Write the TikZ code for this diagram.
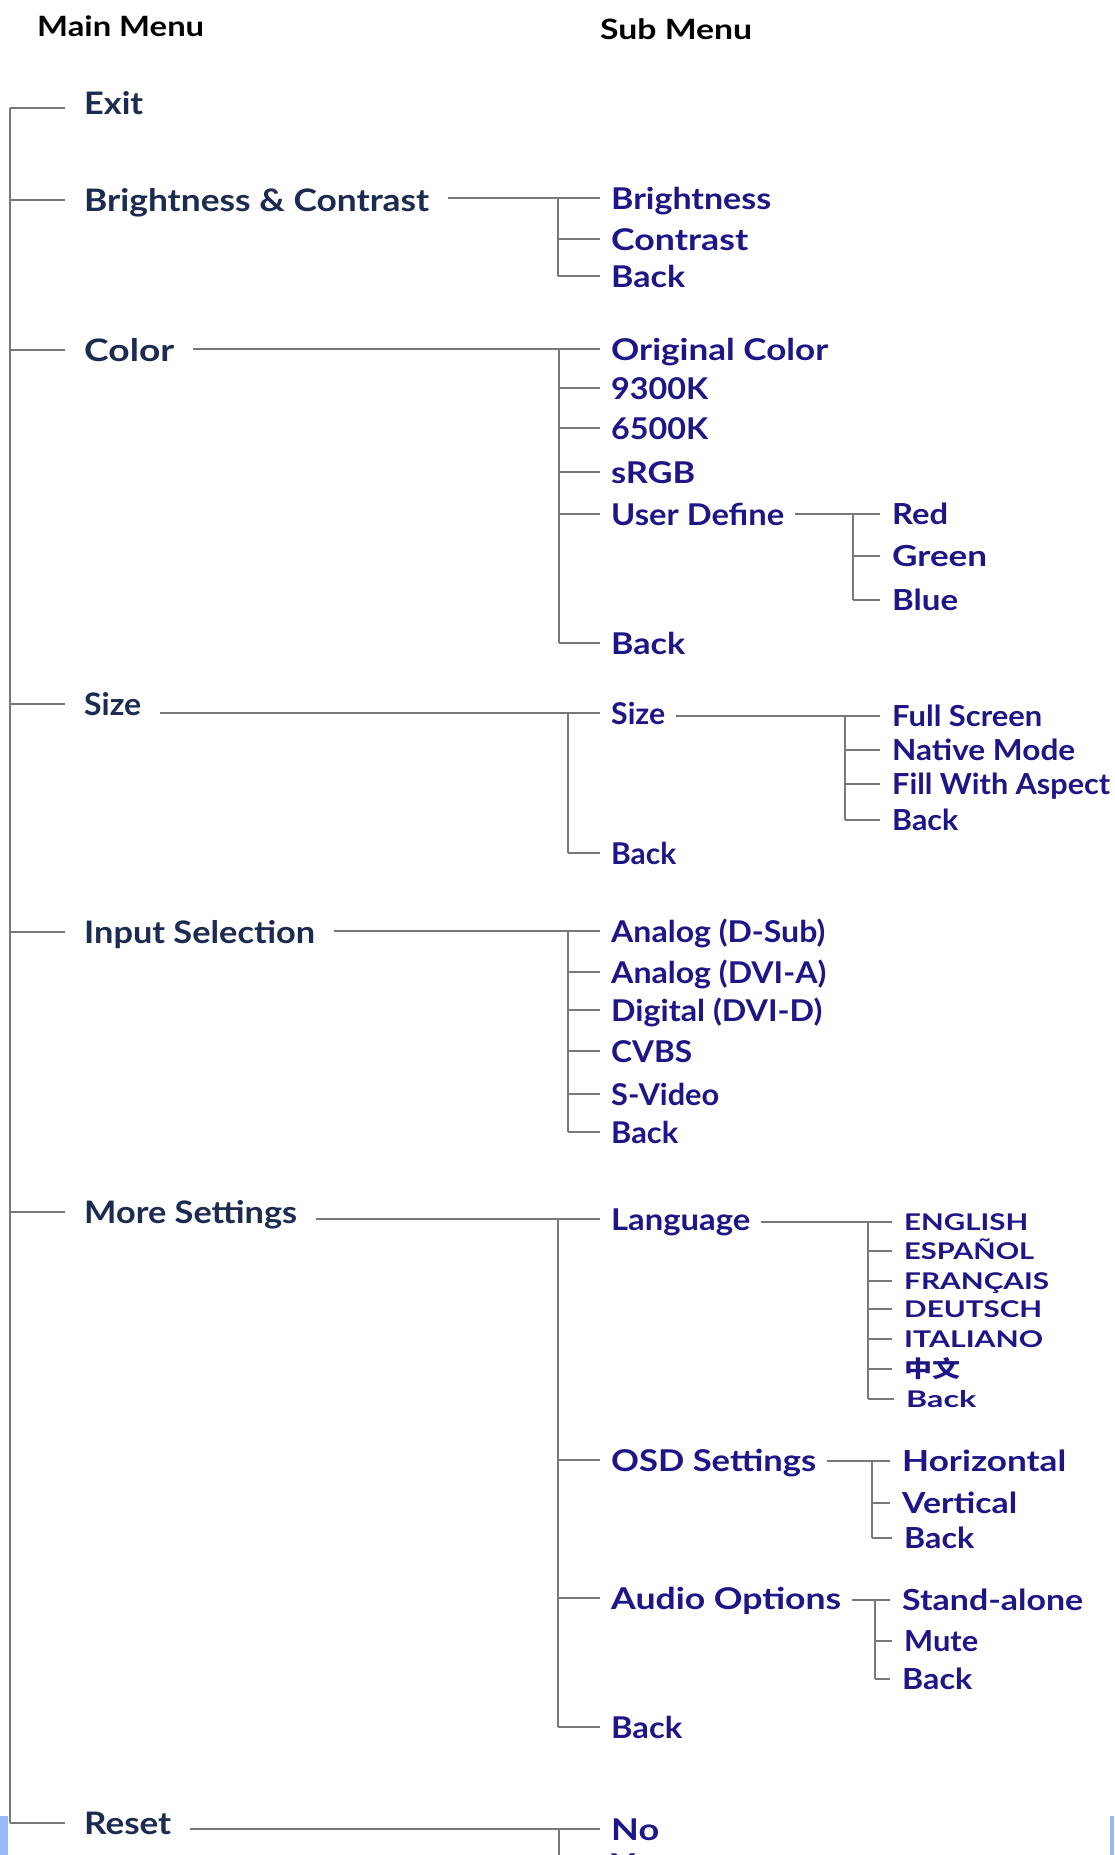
\documentclass[tikz,border=0pt]{standalone}
\usepackage{fontspec}
\usepackage{graphicx}
\setmainfont{Lato}
\newfontfamily\cjk{Noto Sans CJK SC}
\definecolor{mainc}{RGB}{28,43,80}
\definecolor{subc}{RGB}{30,22,135}
\definecolor{linec}{RGB}{120,120,120}
\definecolor{stripc}{RGB}{153,187,245}
\newcommand{\fw}[2]{\resizebox{#1pt}{\height}{#2}}
\tikzset{
  mainitem/.style={anchor=west, inner xsep=19pt, inner ysep=0pt, text height=22pt, text depth=0pt,
    font=\fontsize{31}{31}\selectfont\bfseries, text=mainc},
  subitem/.style={anchor=west, inner xsep=11pt, inner ysep=0pt, text height=22pt, text depth=0pt,
    font=\fontsize{30}{30}\selectfont\bfseries, text=subc},
  thirditem/.style={anchor=west, inner xsep=12pt, inner ysep=0pt, text height=21pt, text depth=0pt,
    font=\fontsize{29}{29}\selectfont\bfseries, text=subc},
  langitem/.style={anchor=west, inner xsep=12pt, inner ysep=0pt, text height=17pt, text depth=0pt,
    font=\fontsize{23}{23}\selectfont\bfseries, text=subc},
  head/.style={anchor=base west, inner sep=0pt, font=\fontsize{28}{28}\selectfont\bfseries, text=black},
  conn/.style={draw=linec, line width=1.7pt}
}
\begin{document}
\begin{tikzpicture}[x=1pt,y=-1pt]
\useasboundingbox (0,0) rectangle (1114,1855);
\fill[white] (0,0) rectangle (1114,1855);
\begin{scope}
\clip (0,0) rectangle (1114,1855);
% headings
\node[head] (h1) at (37,36) {\fw{167}{Main Menu}};
\node[head] (h2) at (600,39) {\fw{152}{Sub Menu}};
% main items
\node[mainitem, text depth=9pt] (m1) at (65,108) {\fw{59}{Exit}};
\node[mainitem] (m2) at (65,200) {\fw{345}{Brightness \& Contrast}};
\node[mainitem] (m3) at (65,350) {\fw{90}{Color}};
\node[mainitem] (m4) at (65,704) {\fw{57}{Size}};
\node[mainitem] (m5) at (65,932) {\fw{231}{Input Selection}};
\node[mainitem] (m6) at (65,1212) {\fw{213}{More Settings}};
\node[mainitem] (m7) at (65,1823) {\fw{87}{Reset}};
% sub items
\node[subitem] (s21) at (600,198) {\fw{160}{Brightness}};
\node[subitem] (s22) at (600,239) {\fw{137}{Contrast}};
\node[subitem] (s23) at (600,276) {\fw{74}{Back}};
\node[subitem] (s31) at (600,349) {\fw{217}{Original Color}};
\node[subitem] (s32) at (600,388) {\fw{97}{9300K}};
\node[subitem] (s33) at (600,428) {\fw{97}{6500K}};
\node[subitem] (s34) at (600,472) {\fw{84}{sRGB}};
\node[subitem] (s35) at (600,514) {\fw{173}{User Define}};
\node[subitem] (s36) at (600,643) {\fw{74}{Back}};
\node[subitem] (s41) at (600,713) {\fw{54}{Size}};
\node[subitem] (s42) at (600,853) {\fw{65}{Back}};
\node[subitem] (s51) at (600,931) {\fw{214}{Analog (D-Sub)}};
\node[subitem] (s52) at (600,972) {\fw{215}{Analog (DVI-A)}};
\node[subitem] (s53) at (600,1010) {\fw{211}{Digital (DVI-D)}};
\node[subitem] (s54) at (600,1051) {\fw{81}{CVBS}};
\node[subitem] (s55) at (600,1094) {\fw{108}{S-Video}};
\node[subitem] (s56) at (600,1132) {\fw{67}{Back}};
\node[subitem] (s61) at (600,1219) {\fw{139}{Language}};
\node[subitem] (s62) at (600,1460) {\fw{205}{OSD Settings}};
\node[subitem] (s63) at (600,1598) {\fw{230}{Audio Options}};
\node[subitem] (s64) at (600,1727) {\fw{71}{Back}};
\node[subitem] (s71) at (600,1829) {\fw{48}{No}};
\node[subitem] (s72) at (600,1864) {\fw{56}{Yes}};
% third level
\node[thirditem] (t1) at (880,514) {\fw{56}{Red}};
\node[thirditem] (t2) at (880,556) {\fw{95}{Green}};
\node[thirditem] (t3) at (880,600) {\fw{66}{Blue}};
\node[thirditem] (u1) at (880,716) {\fw{150}{Full Screen}};
\node[thirditem] (u2) at (880,750) {\fw{183}{Native Mode}};
\node[thirditem] (u3) at (880,784) {\fw{218}{Fill With Aspect}};
\node[thirditem] (u4) at (880,820) {\fw{66}{Back}};
\node[langitem] (l1) at (892,1222) {\fw{124}{ENGLISH}};
\node[langitem] (l2) at (892,1251) {\fw{130}{ESPAÑOL}};
\node[langitem] (l3) at (892,1281) {\fw{145}{FRANÇAIS}};
\node[langitem] (l4) at (892,1309) {\fw{138}{DEUTSCH}};
\node[langitem] (l5) at (892,1339) {\fw{139}{ITALIANO}};
\node[langitem] (l6) at (892,1369) {\fw{56}{\cjk 中文}};
\node[langitem] (l7) at (894,1399) {\fw{70}{Back}};
\node[thirditem] (o1) at (890,1461) {\fw{164}{Horizontal}};
\node[thirditem] (o2) at (890,1503) {\fw{115}{Vertical}};
\node[thirditem] (o3) at (892,1538) {\fw{70}{Back}};
\node[thirditem] (a1) at (890,1600) {\fw{181}{Stand-alone}};
\node[thirditem] (a2) at (892,1641) {\fw{74}{Mute}};
\node[thirditem] (a3) at (890,1679) {\fw{70}{Back}};
% trunks
\coordinate (T0) at (10,0);
\coordinate (T2) at (558,0);
\coordinate (T3) at (559,0);
\coordinate (T4) at (568,0);
\coordinate (T5) at (568,0);
\coordinate (T6) at (558,0);
\coordinate (T7) at (559,0);
\coordinate (TUD) at (853,0);
\coordinate (TSZ) at (845,0);
\coordinate (TLG) at (868,0);
\coordinate (TOS) at (872,0);
\coordinate (TAU) at (875,0);
% main tree
\draw[conn] (T0 |- m1.west) -- (T0 |- m7.west);
\foreach \c in {m1,m2,m3,m4,m5,m6,m7} {\draw[conn] (T0 |- \c.west) -- (\c.west);}
% Brightness & Contrast
\draw[conn] (m2.east |- s21.west) -- (s21.west);
\draw[conn] (T2 |- s21.west) -- (T2 |- s23.west);
\foreach \c in {s22,s23} {\draw[conn] (T2 |- \c.west) -- (\c.west);}
% Color
\draw[conn] (m3.east |- s31.west) -- (s31.west);
\draw[conn] (T3 |- s31.west) -- (T3 |- s36.west);
\foreach \c in {s32,s33,s34,s35,s36} {\draw[conn] (T3 |- \c.west) -- (\c.west);}
\draw[conn] (s35.east |- t1.west) -- (t1.west);
\draw[conn] (TUD |- t1.west) -- (TUD |- t3.west);
\foreach \c in {t2,t3} {\draw[conn] (TUD |- \c.west) -- (\c.west);}
% Size
\draw[conn] (m4.east |- s41.west) -- (s41.west);
\draw[conn] (T4 |- s41.west) -- (T4 |- s42.west);
\draw[conn] (T4 |- s42.west) -- (s42.west);
\draw[conn] (s41.east |- u1.west) -- (u1.west);
\draw[conn] (TSZ |- u1.west) -- (TSZ |- u4.west);
\foreach \c in {u2,u3,u4} {\draw[conn] (TSZ |- \c.west) -- (\c.west);}
% Input Selection
\draw[conn] (m5.east |- s51.west) -- (s51.west);
\draw[conn] (T5 |- s51.west) -- (T5 |- s56.west);
\foreach \c in {s52,s53,s54,s55,s56} {\draw[conn] (T5 |- \c.west) -- (\c.west);}
% More Settings
\draw[conn] (m6.east |- s61.west) -- (s61.west);
\draw[conn] (T6 |- s61.west) -- (T6 |- s64.west);
\foreach \c in {s62,s63,s64} {\draw[conn] (T6 |- \c.west) -- (\c.west);}
\draw[conn] (s61.east |- l1.west) -- (l1.west);
\draw[conn] (TLG |- l1.west) -- (TLG |- l7.west);
\foreach \c in {l2,l3,l4,l5,l6,l7} {\draw[conn] (TLG |- \c.west) -- (\c.west);}
\draw[conn] (s62.east |- o1.west) -- (o1.west);
\draw[conn] (TOS |- o1.west) -- (TOS |- o3.west);
\foreach \c in {o2,o3} {\draw[conn] (TOS |- \c.west) -- (\c.west);}
\draw[conn] (s63.east |- a1.west) -- (a1.west);
\draw[conn] (TAU |- a1.west) -- (TAU |- a3.west);
\foreach \c in {a2,a3} {\draw[conn] (TAU |- \c.west) -- (\c.west);}
% Reset
\draw[conn] (m7.east |- s71.west) -- (s71.west);
\draw[conn] (T7 |- s71.west) -- (T7 |- s72.west);
\draw[conn] (T7 |- s72.west) -- (s72.west);
% blue strips
\fill[stripc] (0,1816) rectangle (8,1855);
\fill[stripc] (1110,1816) rectangle (1114,1855);
\end{scope}
\end{tikzpicture}
\end{document}
